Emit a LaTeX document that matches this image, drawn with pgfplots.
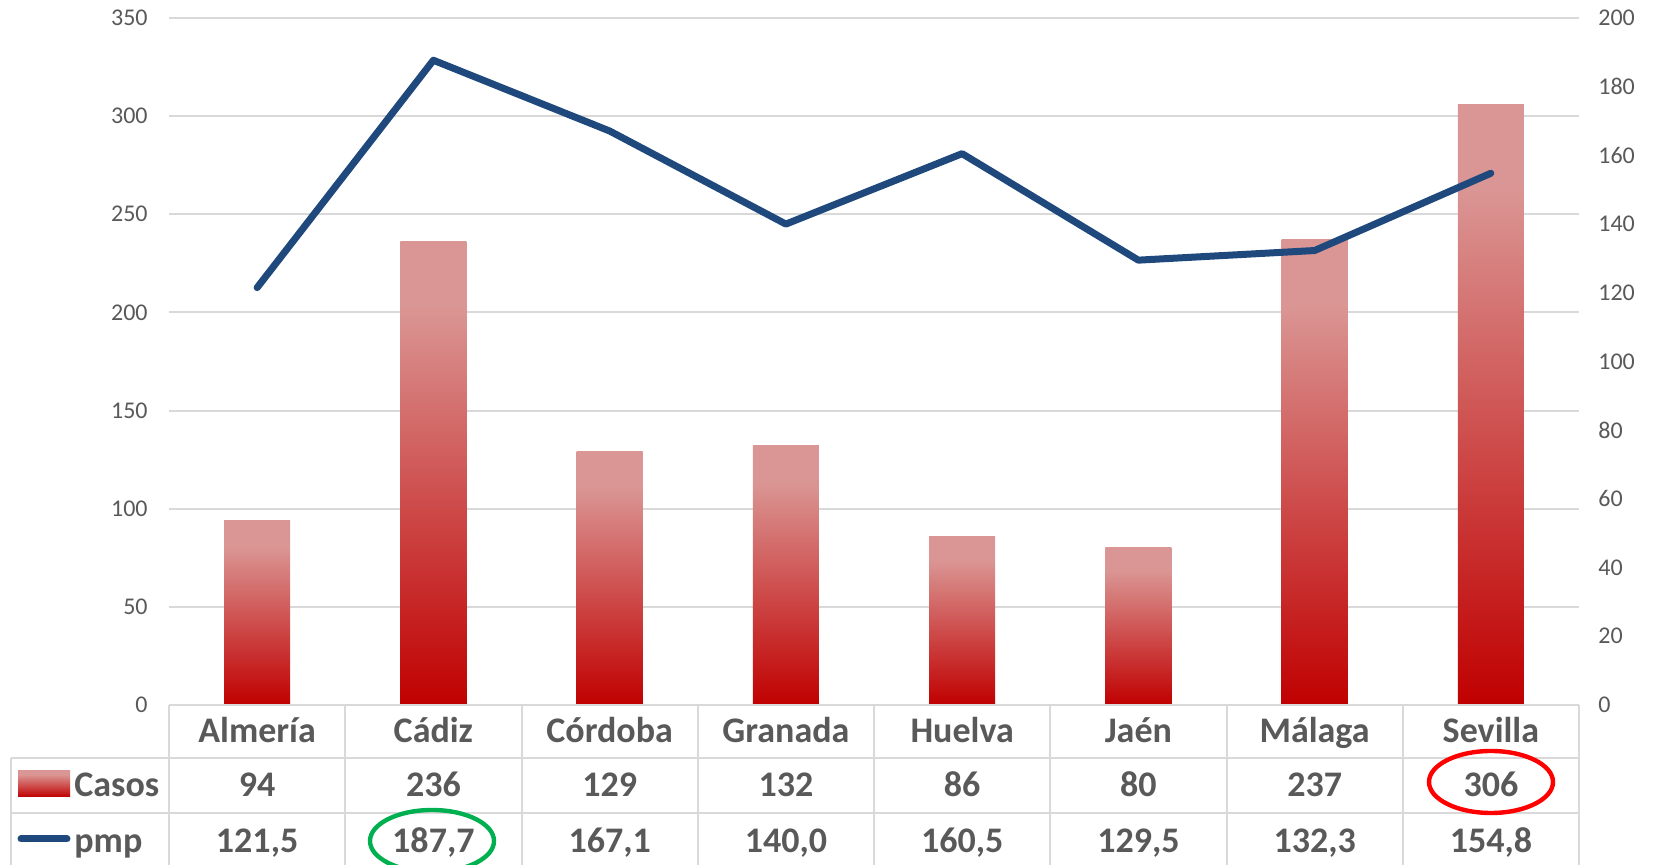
\documentclass[border=0pt]{standalone}
\usepackage{fontspec}
\setmainfont{Carlito}
\usepackage{pgfplots}
\pgfplotsset{compat=1.18}
\definecolor{txtgray}{HTML}{595959}
\definecolor{gridgray}{HTML}{D9D9D9}
\definecolor{pmpblue}{HTML}{1F497D}
\definecolor{barlight}{HTML}{DA9694}
\definecolor{bardark}{HTML}{C00000}
\definecolor{ringred}{HTML}{FF0000}
\definecolor{ringgreen}{HTML}{00B050}
\pgfdeclareverticalshading{barshade}{100bp}{color(0bp)=(bardark); color(25bp)=(bardark); color(68bp)=(barlight); color(100bp)=(barlight)}

\pgfplotsset{
  base/.style={
    at={(84.5pt,80pt)}, anchor=south west, scale only axis,
    width=705pt, height=343.5pt,
    xmin=-0.5, xmax=7.5, xtick=\empty,
    axis x line=none, axis line style={draw=none},
    tick style={draw=none},
    /pgf/number format/assume math mode=true,
    ticklabel style={font=\fontsize{12}{14}\selectfont, text=txtgray, inner sep=0pt},
  },
}

\begin{document}
\begin{tikzpicture}[x=1pt, y=1pt]
\useasboundingbox (0,0) rectangle (827,432.5);

% casos (left axis)
\begin{axis}[base, ymin=0, ymax=350, ytick distance=50,
  axis y line*=left, ymajorgrids, grid style={gridgray, line width=1pt},
  yticklabel style={anchor=east, xshift=-10.5pt}]
  \addplot[ybar, bar width=33pt, draw=none, shade, shading=barshade] coordinates {(0,94)};
  \addplot[ybar, bar width=33pt, draw=none, shade, shading=barshade] coordinates {(1,236)};
  \addplot[ybar, bar width=33pt, draw=none, shade, shading=barshade] coordinates {(2,129)};
  \addplot[ybar, bar width=33pt, draw=none, shade, shading=barshade] coordinates {(3,132)};
  \addplot[ybar, bar width=33pt, draw=none, shade, shading=barshade] coordinates {(4,86)};
  \addplot[ybar, bar width=33pt, draw=none, shade, shading=barshade] coordinates {(5,80)};
  \addplot[ybar, bar width=33pt, draw=none, shade, shading=barshade] coordinates {(6,237)};
  \addplot[ybar, bar width=33pt, draw=none, shade, shading=barshade] coordinates {(7,306)};
\end{axis}

% pmp (right axis)
\begin{axis}[base, ymin=0, ymax=200, ytick distance=20,
  axis y line*=right,
  yticklabel style={anchor=west, xshift=9.5pt}]
  \addplot[pmpblue, line width=3.5pt, line cap=round, line join=round]
    coordinates {(0,121.5) (1,187.7) (2,167.1) (3,140.0) (4,160.5) (5,129.5) (6,132.3) (7,154.8)};
\end{axis}

% data table under the plot
\begin{scope}[gridgray, line width=1pt]
  \draw (84.5,80) -- (789.5,80);
  \draw (5.25,53.5) -- (789.5,53.5);
  \draw (5.25,26) -- (789.5,26);
  \draw (5.25,53.5) -- (5.25,0);
  \foreach \k in {0,...,8} \draw ({84.5+\k*88.125},80) -- ({84.5+\k*88.125},0);
\end{scope}

\begin{scope}[every node/.style={font=\fontsize{18}{20}\selectfont\bfseries, text=txtgray, inner sep=0pt, anchor=base}]
  \foreach \name [count=\i from 0] in {Almería,Cádiz,Córdoba,Granada,Huelva,Jaén,Málaga,Sevilla}
    \node at ({84.5+(\i+0.5)*88.125},61.3) {\name};
  \foreach \v [count=\i from 0] in {94,236,129,132,86,80,237,306}
    \node at ({84.5+(\i+0.5)*88.125},34.3) {\v};
  \foreach \v [count=\i from 0] in {121{,}5,187{,}7,167{,}1,140{,}0,160{,}5,129{,}5,132{,}3,154{,}8}
    \node at ({84.5+(\i+0.5)*88.125},6.4) {\v};
  \shade[shading=barshade] (9,34) rectangle (35,47);
  \node[anchor=base west] at (37,34.3) {Casos};
  \draw[pmpblue, line width=3.5pt, line cap=round] (10.5,13) -- (33.5,13);
  \node[anchor=base west] at (37,6.4) {pmp};
\end{scope}

\draw[ringred, line width=2.2pt] (745.5,41.5) ellipse [x radius=31, y radius=15.5];
\draw[ringgreen, line width=2.2pt] (216,12) ellipse [x radius=31, y radius=15.5];
\end{tikzpicture}
\end{document}
